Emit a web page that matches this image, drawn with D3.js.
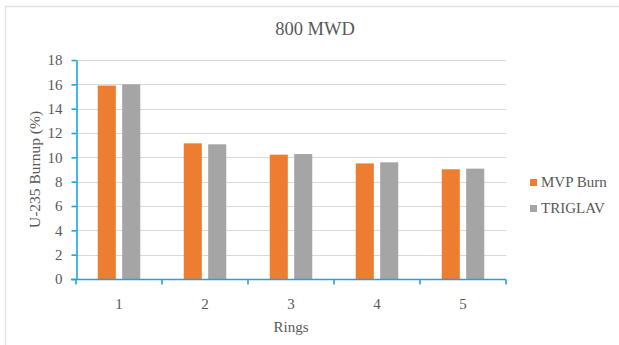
<!DOCTYPE html>
<html>
<head>
<meta charset="utf-8">
<script src="https://cdn.jsdelivr.net/npm/d3@7"></script>
<style>
  html, body { margin: 0; padding: 0; background: #fff; }
</style>
</head>
<body>
<div id="chart"></div>
<script>
// Ring-wise U-235 burnup at 800 MWD
const rings = ["1", "2", "3", "4", "5"];
const seriesNames = ["MVP Burn", "TRIGLAV"];
const mvpBurn = [15.9, 11.15, 10.22, 9.5, 9.02];
const triglav = [16.0, 11.07, 10.27, 9.59, 9.07];
const yTicks = [0, 2, 4, 6, 8, 10, 12, 14, 16, 18];
const colors = ["#ed7d31", "#a5a5a5"];

const W = 619, H = 345;
const plot = { left: 76, right: 506, top: 60, bottom: 279 };
const axisColor = "#1ca5df";
const textColor = "#595959";
const FONT = "Liberation Serif";

const svg = d3.select("#chart").append("svg")
  .attr("width", W).attr("height", H)
  .attr("font-family", FONT);

// frame edges
svg.append("line").attr("x1", 5).attr("x2", W).attr("y1", 6.5).attr("y2", 6.5)
  .attr("stroke", "#e2e2e2").attr("stroke-width", 1.5);
svg.append("line").attr("x1", 5.5).attr("x2", 5.5).attr("y1", 6).attr("y2", H)
  .attr("stroke", "#e2e2e2").attr("stroke-width", 1.5);

const x = d3.scaleBand().domain(rings).range([plot.left, plot.right]);
const y = d3.scaleLinear().domain([0, 18]).range([plot.bottom, plot.top]);
const inner = d3.scaleBand().domain(seriesNames)
  .range([0, x.bandwidth()]).paddingInner(0.26).paddingOuter(0.89);

// gridlines
svg.append("g").selectAll("line").data(yTicks.filter(d => d > 0)).join("line")
  .attr("x1", plot.left).attr("x2", plot.right)
  .attr("y1", d => Math.round(y(d)) + 0.5).attr("y2", d => Math.round(y(d)) + 0.5)
  .attr("stroke", "#d9d9d9").attr("stroke-width", 1.2);

// bars
const data = rings.map((r, i) => ({ ring: r, values: [mvpBurn[i], triglav[i]] }));
const groups = svg.append("g").selectAll("g").data(data).join("g")
  .attr("transform", d => `translate(${x(d.ring)},0)`);
groups.selectAll("rect")
  .data(d => d.values.map((v, k) => ({ name: seriesNames[k], value: v, k })))
  .join("rect")
  .attr("x", d => inner(d.name))
  .attr("width", inner.bandwidth())
  .attr("y", d => y(d.value))
  .attr("height", d => y(0) - y(d.value))
  .attr("fill", d => colors[d.k]);

// y axis
const yAxis = svg.append("g").attr("transform", `translate(${plot.left + 0.5},0)`)
  .call(d3.axisLeft(y).tickValues(yTicks).tickSize(5).tickPadding(9).tickSizeOuter(0))
  .attr("font-family", FONT).attr("font-size", 15);
yAxis.select(".domain").attr("stroke", axisColor).attr("stroke-width", 1.6);
yAxis.selectAll(".tick line").attr("stroke", axisColor).attr("stroke-width", 1.6);
yAxis.selectAll(".tick text").attr("fill", textColor);

// x axis with boundary ticks between categories
const xAxis = svg.append("g").attr("transform", `translate(0,${plot.bottom + 0.5})`);
xAxis.append("line").attr("x1", plot.left - 5).attr("x2", plot.right)
  .attr("stroke", axisColor).attr("stroke-width", 1.6);
const bounds = rings.map(r => x(r)).concat([plot.right]);
xAxis.selectAll("line.b").data(bounds).join("line").attr("class", "b")
  .attr("x1", d => d).attr("x2", d => d).attr("y1", 0).attr("y2", 5)
  .attr("stroke", axisColor).attr("stroke-width", 1.6);
xAxis.selectAll("text").data(rings).join("text")
  .attr("x", d => x(d) + x.bandwidth() / 2).attr("y", 29)
  .attr("text-anchor", "middle").attr("fill", textColor)
  .attr("font-family", FONT).attr("font-size", 15).text(d => d);

// title and axis titles
svg.append("text").attr("x", 315).attr("y", 35).attr("text-anchor", "middle")
  .attr("fill", textColor).attr("font-family", FONT).attr("font-size", 18.5)
  .text("800 MWD");
svg.append("text").attr("x", (plot.left + plot.right) / 2).attr("y", 332)
  .attr("text-anchor", "middle").attr("fill", textColor)
  .attr("font-family", FONT).attr("font-size", 15).text("Rings");
svg.append("text")
  .attr("transform", `translate(40,${(plot.top + plot.bottom) / 2}) rotate(-90)`)
  .attr("text-anchor", "middle").attr("fill", textColor)
  .attr("font-family", FONT).attr("font-size", 15.5).text("U-235 Burnup (%)");

// legend
const legend = svg.append("g").selectAll("g").data(seriesNames).join("g")
  .attr("transform", (d, i) => `translate(530,${179 + i * 26})`);
legend.append("rect").attr("width", 7).attr("height", 7)
  .attr("fill", (d, i) => colors[i]);
legend.append("text").attr("x", 11).attr("y", 8).attr("fill", textColor)
  .attr("font-family", FONT).attr("font-size", 15).text(d => d);
</script>
</body>
</html>
